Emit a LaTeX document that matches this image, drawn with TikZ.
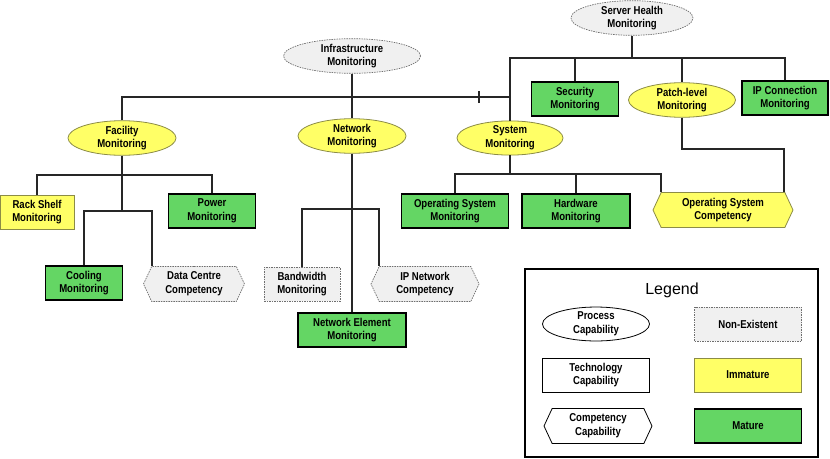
\documentclass[tikz,border=0pt]{standalone}
\usepackage{fontspec}
\setmainfont{Liberation Sans}
\newfontfamily\narrowfont[FakeStretch=0.84]{Liberation Sans}
\usetikzlibrary{shapes.geometric,shapes.symbols}

\definecolor{immfill}{RGB}{255,255,102}
\definecolor{immline}{RGB}{140,140,70}
\definecolor{matfill}{RGB}{100,214,100}
\definecolor{nonfill}{RGB}{240,240,240}
\definecolor{nonline}{RGB}{110,110,110}

\tikzset{
  every node/.style={font=\narrowfont\bfseries\fontsize{11.4}{13.8}\selectfont, align=center, inner sep=0pt},
  % capability shapes
  proc/.style={ellipse, minimum width=107pt, minimum height=33pt},
  tech/.style={rectangle, minimum width=87pt, minimum height=34pt},
  comp/.style={signal, signal to=west and east, signal pointer angle=130,
    minimum width=108pt, minimum height=35pt},
  % maturity looks
  nonex/.style={draw=nonline, dash pattern=on 1.5pt off 1pt, line width=0.7pt, fill=nonfill},
  immat/.style={draw=immline, line width=0.8pt, fill=immfill},
  mature/.style={draw=black, line width=1.8pt, fill=matfill},
  plain/.style={draw=black, line width=0.8pt, fill=white},
  link/.style={draw=black!85, line width=1.2pt}
}

\begin{document}
\begin{tikzpicture}[x=1pt, y=-1pt]
  \useasboundingbox (0,0) rectangle (830,458);

  % Top level processes
  \node[proc, nonex, minimum width=137pt] (infra) at (352,56) {Infrastructure\\Monitoring};
  \node[proc, nonex, minimum width=122pt] (srv) at (632,18) {Server Health\\Monitoring};

  % Second level
  \node[proc, immat, minimum width=108pt] (fac) at (122,138) {Facility\\Monitoring};
  \node[proc, immat, minimum width=108pt] (net) at (352,136) {Network\\Monitoring};
  \node[proc, immat, minimum width=106pt] (sys) at (510,138) {System\\Monitoring};

  % Server health children
  \node[tech, mature, minimum width=87pt] (sec) at (575,99) {Security\\Monitoring};
  \node[proc, immat] (patch) at (682,100) {Patch-level\\Monitoring};
  \node[tech, mature, minimum width=86pt] (ipc) at (785,98) {IP Connection\\Monitoring};

  % Facility children
  \node[tech, immat, minimum width=74pt] (rack) at (37,212) {Rack Shelf\\Monitoring};
  \node[tech, mature, minimum width=87pt] (pow) at (212,211) {Power\\Monitoring};
  \node[tech, mature, minimum width=77pt] (cool) at (84,283) {Cooling\\Monitoring};
  \node[comp, nonex, minimum width=101pt] (dcc) at (194,284) {Data Centre\\Competency};

  % Network children
  \node[tech, nonex, minimum width=76pt] (bw) at (302,284) {Bandwidth\\Monitoring};
  \node[comp, nonex] (ipn) at (425,284) {IP Network\\Competency};
  \node[tech, mature, minimum width=108pt] (ne) at (352,330) {Network Element\\Monitoring};

  % System children
  \node[tech, mature, minimum width=107pt] (osm) at (455,211) {Operating System\\Monitoring};
  \node[tech, mature, minimum width=108pt] (hw) at (576,211) {Hardware\\Monitoring};
  \node[comp, immat, minimum width=140pt] (osc) at (723,210) {Operating System\\Competency};

  % Bus junctions
  \coordinate (busI) at (352,97);
  \coordinate (busS) at (632,58);
  \coordinate (busF) at (122,175);
  \coordinate (busF2) at (122,211);
  \coordinate (busN) at (352,209);
  \coordinate (busY) at (510,174);
  \coordinate (busP) at (680,149);
  \coordinate (tick) at (479,97);
  \coordinate (dccL) at ([xshift=-42pt]dcc.north);
  \coordinate (ipnL) at ([xshift=-46pt]ipn.north);
  \coordinate (oscL) at ([xshift=-62pt]osc.north);
  \coordinate (oscR) at ([xshift=61pt]osc.north);

  % Connectors
  \draw[link] (infra.south) -- (busI);
  \draw[link] (fac.north) |- (busI -| sys) -- (sys.north);
  \draw[link] (busI) -- (net.north);
  \draw[link] ([yshift=-6pt]tick) -- ([yshift=6pt]tick);

  \draw[link] (srv.south) -- (busS);
  \draw[link] (sys.north) |- (busS -| ipc) -- (ipc.north);
  \draw[link] (busS -| sec) -- (sec.north);
  \draw[link] (busS -| patch) -- (patch.north);
  \draw[link] (patch.south) |- (busP -| oscR) -- (oscR);

  \draw[link] (fac.south) -- (busF2);
  \draw[link] (rack.north) |- (busF) -| (pow.north);
  \draw[link] (cool.north) |- (busF2) -| (dccL);

  \draw[link] (net.south) -- (ne.north);
  \draw[link] (bw.north) |- (busN) -| (ipnL);

  \draw[link] (sys.south) -- (busY);
  \draw[link] (osm.north) |- (busY) -| (oscL);
  \draw[link] (busY -| hw) -- (hw.north);

  % Legend
  \node[draw=black, line width=1.2pt, fill=white, minimum width=293pt, minimum height=188pt] (legend) at (671.5,363) {};
  \node[font=\fontsize{16}{18}\selectfont] (legtitle) at (672,290) {Legend};
  \node[proc, plain] (lproc) at (596,324) {Process\\Capability};
  \node[tech, plain, minimum width=107pt] (ltech) at (596,375) {Technology\\Capability};
  \node[comp, plain] (lcomp) at (598,426) {Competency\\Capability};
  \node[tech, nonex, minimum width=107pt] (lnon) at (748,324) {Non-Existent};
  \node[tech, immat, minimum width=107pt] (limm) at (748,375) {Immature};
  \node[tech, mature, minimum width=107pt] (lmat) at (748,426) {Mature};

\end{tikzpicture}
\end{document}
